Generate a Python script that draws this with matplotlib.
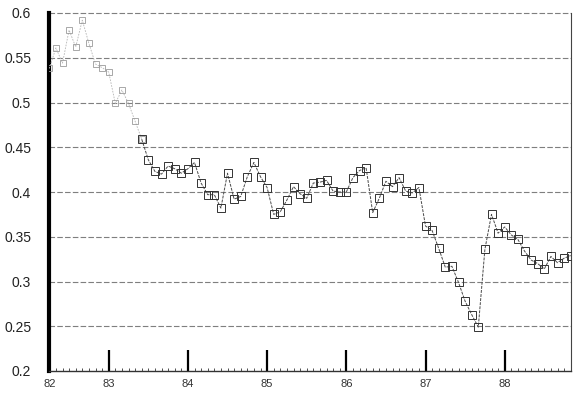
import matplotlib
matplotlib.use("Agg")
import matplotlib.pyplot as plt
import numpy as np

# Monthly values, starting April 1982
values = [0.538, 0.561, 0.544, 0.581, 0.562, 0.592, 0.566, 0.543, 0.539, 0.534,
          0.499, 0.514, 0.499, 0.479, 0.459, 0.436, 0.423, 0.420, 0.429, 0.426,
          0.421, 0.426, 0.433, 0.410, 0.397, 0.397, 0.382, 0.421, 0.392, 0.395,
          0.417, 0.433, 0.417, 0.405, 0.375, 0.378, 0.391, 0.406, 0.398, 0.393,
          0.410, 0.411, 0.413, 0.401, 0.400, 0.400, 0.416, 0.424, 0.427, 0.377,
          0.393, 0.412, 0.406, 0.416, 0.401, 0.399, 0.405, 0.362, 0.357, 0.337,
          0.316, 0.317, 0.299, 0.278, 0.263, 0.249, 0.336, 0.375, 0.354, 0.361,
          0.352, 0.347, 0.334, 0.324, 0.320, 0.314, 0.328, 0.321, 0.326, 0.329]
year_labels = ["82", "83", "84", "85", "86", "87", "88"]
year_tick_months = [0, 9, 21, 33, 45, 57, 69]
y_ticks = [0.2, 0.25, 0.3, 0.35, 0.4, 0.45, 0.5, 0.55, 0.6]
y_labels = ["0.2", "0.25", "0.3", "0.35", "0.4", "0.45", "0.5", "0.55", "0.6"]

plt.rcParams['font.family'] = ['Liberation Sans', 'DejaVu Sans']

W, H = 574, 396
fig = plt.figure(figsize=(W / 100, H / 100), dpi=100)
left, right, top, bottom = 49.3, 571, 13, 371
ax = fig.add_axes([left / W, 1 - bottom / H, (right - left) / W, (bottom - top) / H])

x = np.arange(len(values))
v = np.array(values)

# gridlines
for yv in y_ticks[1:]:
    ax.axhline(yv, color='#7f7f7f', lw=0.8, ls=(0, (5, 2)), zorder=1, clip_on=False)

# faded early part (as in the scan) and main part
nf = 15
ax.plot(x[:nf], v[:nf], color='#b5b5b5', lw=0.6, ls=(0, (2, 1.5)), marker='s',
        ms=4, mfc='none', mec='#9a9a9a', mew=0.6, zorder=3)
ax.plot(x[nf - 1:], v[nf - 1:], color='#4a4a4a', lw=0.7, ls=(0, (3, 1.2)), marker='s',
        ms=6, mfc='none', mec='#333333', mew=0.7, zorder=3)

ax.set_xlim(0, (right - left) / 6.6)
ax.set_ylim(0.2, 0.6)

ax.set_yticks(y_ticks)
ax.set_yticklabels(y_labels, fontsize=10, color='#222222')
ax.tick_params(axis='y', length=0, pad=13)

ax.set_xticks(year_tick_months)
ax.set_xticklabels(year_labels, fontsize=8, color='#333333')
ax.set_xticks(np.arange(0, 80), minor=True)
ax.tick_params(axis='x', which='major', direction='in', length=15, width=1.6,
               color='black', pad=6)
ax.tick_params(axis='x', which='minor', direction='in', length=2.5, width=0.6,
               color='#333333')

ax.spines['top'].set_visible(False)
ax.spines['left'].set_linewidth(3)
ax.spines['left'].set_color('black')
ax.spines['right'].set_linewidth(0.8)
ax.spines['right'].set_color('#444444')
ax.spines['bottom'].set_linewidth(1.0)
ax.spines['bottom'].set_color('#333333')

fig.savefig("out.png", dpi=100)
